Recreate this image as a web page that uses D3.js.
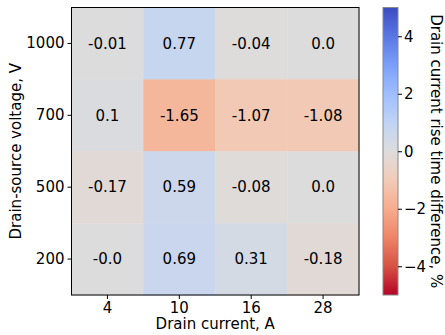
<!DOCTYPE html>
<html>
<head>
<meta charset="utf-8">
<script src="https://cdn.jsdelivr.net/npm/d3@7"></script>
<style>
  html, body { margin: 0; padding: 0; background: #fff; }
  svg text { font-family: "DejaVu Sans", sans-serif; }
</style>
</head>
<body>
<div id="chart"></div>
<script>
// Data
const currents = ['4', '10', '16', '28'];
const voltages = ['1000', '700', '500', '200'];
const values = [
  [-0.01, 0.77, -0.04, 0.0],
  [0.1, -1.65, -1.07, -1.08],
  [-0.17, 0.59, -0.08, 0.0],
  [-0.0, 0.69, 0.31, -0.18]
];
const labels = [
  ['-0.01', '0.77', '-0.04', '0.0'],
  ['0.1', '-1.65', '-1.07', '-1.08'],
  ['-0.17', '0.59', '-0.08', '0.0'],
  ['-0.0', '0.69', '0.31', '-0.18']
];
const cbarTicks = [-4, -2, 0, 2, 4];

// coolwarm samples (blue -> red), used reversed
const coolwarm = ['#3b4cc0', '#5977e3', '#7b9ff9', '#9ebeff', '#c0d4f5', '#dddcdc',
                  '#f2cbb7', '#f7ac8e', '#ee8468', '#d65244', '#b40426'];
const colorScale = d3.scaleLinear()
  .domain(d3.range(coolwarm.length).map(i => 5 - i))
  .range(coolwarm)
  .interpolate(d3.interpolateRgb)
  .clamp(true);

const W = 445, H = 335;
const plot = { left: 71.5, right: 359, top: 7.5, bottom: 295 };
const cbar = { left: 383, right: 398 };

const svg = d3.select('#chart').append('svg')
  .attr('width', W).attr('height', H);

const x = d3.scaleBand().domain(currents).range([plot.left, plot.right]);
const y = d3.scaleBand().domain(voltages).range([plot.top, plot.bottom]);

// cells
voltages.forEach((v, i) => {
  currents.forEach((c, j) => {
    svg.append('rect')
      .attr('x', x(c))
      .attr('y', y(v))
      .attr('width', x.bandwidth() + 0.5)
      .attr('height', y.bandwidth() + 0.5)
      .attr('fill', colorScale(values[i][j]));
    svg.append('text')
      .attr('x', x(c) + x.bandwidth() / 2)
      .attr('y', y(v) + y.bandwidth() / 2)
      .attr('dy', '0.35em')
      .attr('text-anchor', 'middle')
      .style('font-size', '15px')
      .style('fill', '#000')
      .text(labels[i][j]);
  });
});

// frame
svg.append('rect')
  .attr('x', plot.left).attr('y', plot.top)
  .attr('width', plot.right - plot.left).attr('height', plot.bottom - plot.top)
  .attr('fill', 'none').attr('stroke', '#000').attr('stroke-width', 1);

// axes
const xAxis = svg.append('g')
  .attr('transform', `translate(0,${plot.bottom})`)
  .call(d3.axisBottom(x).tickSize(4).tickPadding(3));
const yAxis = svg.append('g')
  .attr('transform', `translate(${plot.left},0)`)
  .call(d3.axisLeft(y).tickSize(4).tickPadding(3));
[xAxis, yAxis].forEach(g => {
  g.select('.domain').remove();
  g.selectAll('line').attr('stroke', '#000');
  g.selectAll('text').style('font-size', '15px').style('font-family', '"DejaVu Sans", sans-serif').attr('fill', '#000');
});

// axis labels
svg.append('text')
  .attr('x', (plot.left + plot.right) / 2)
  .attr('y', 329)
  .attr('text-anchor', 'middle')
  .style('font-size', '15px')
  .text('Drain current, A');

svg.append('text')
  .attr('transform', `translate(21,${(plot.top + plot.bottom) / 2}) rotate(-90)`)
  .attr('text-anchor', 'middle')
  .style('font-size', '15px')
  .text('Drain-source voltage, V');

// colorbar
const cy = d3.scaleLinear().domain([-5, 5]).range([plot.bottom, plot.top]);
const defs = svg.append('defs');
const grad = defs.append('linearGradient')
  .attr('id', 'cbar-grad')
  .attr('x1', '0%').attr('x2', '0%').attr('y1', '100%').attr('y2', '0%');
d3.range(0, 1.0001, 0.05).forEach(t => {
  grad.append('stop')
    .attr('offset', `${t * 100}%`)
    .attr('stop-color', colorScale(-5 + 10 * t));
});
svg.append('rect')
  .attr('x', cbar.left).attr('y', plot.top)
  .attr('width', cbar.right - cbar.left).attr('height', plot.bottom - plot.top)
  .attr('fill', 'url(#cbar-grad)')
  .attr('stroke', '#888').attr('stroke-width', 1);

const cAxis = svg.append('g')
  .attr('transform', `translate(${cbar.right},0)`)
  .call(d3.axisRight(cy).tickValues(cbarTicks).tickSize(4).tickPadding(2)
    .tickFormat(d => d < 0 ? '\u2212' + Math.abs(d) : String(d)));
cAxis.select('.domain').remove();
cAxis.selectAll('line').attr('stroke', '#000');
cAxis.selectAll('text').style('font-size', '15px').style('font-family', '"DejaVu Sans", sans-serif').attr('fill', '#000');

svg.append('text')
  .attr('transform', `translate(431,${(plot.top + plot.bottom) / 2}) rotate(90)`)
  .attr('text-anchor', 'middle')
  .style('font-size', '15px')
  .text('Drain current rise time difference, %');
</script>
</body>
</html>
